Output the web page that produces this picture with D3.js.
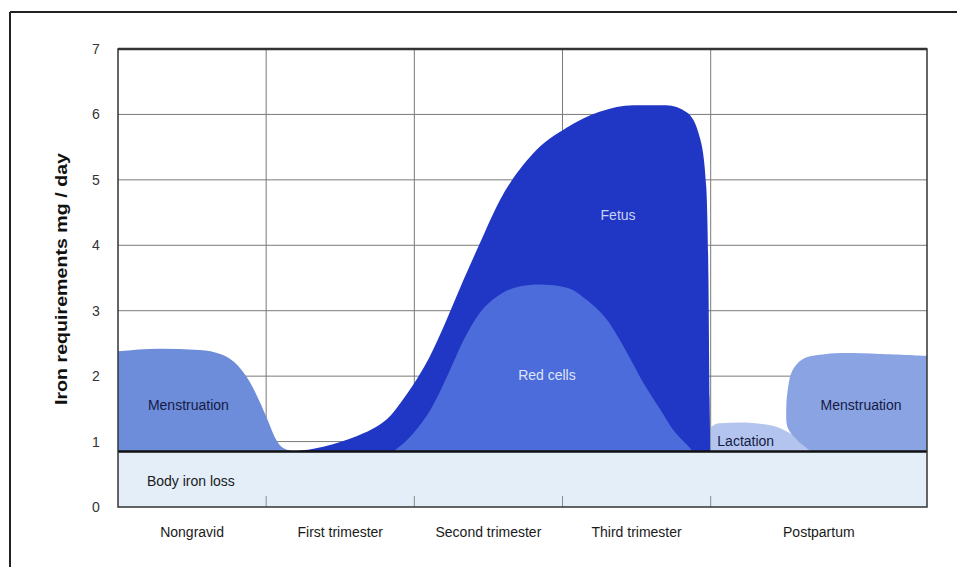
<!DOCTYPE html>
<html>
<head>
<meta charset="utf-8">
<script src="https://cdn.jsdelivr.net/npm/d3@7"></script>
<style>
  html, body { margin: 0; padding: 0; background: #ffffff; }
  svg { display: block; }
  text { font-family: "Liberation Sans", Arial, sans-serif; }
</style>
</head>
<body>
<svg id="chart" width="957" height="567"></svg>
<script>
// ---------------- data ----------------
const stageNames = ["Nongravid", "First trimester", "Second trimester", "Third trimester", "Postpartum"];
const stageEdges = [0, 1, 2, 3, 4, 5.46];          // stage boundaries (x units)
const yTicks = [0, 1, 2, 3, 4, 5, 6, 7];            // mg / day
const bodyIronLoss = 0.85;                          // mg / day

// [stage position, total mg/day] outlines of each area (top edge)
const menstruationBefore = [[0,2.38],[0.28,2.42],[0.55,2.40],[0.70,2.33],[0.81,2.16],[0.89,1.91],[0.95,1.64],[1.01,1.33],[1.06,1.06],[1.11,0.91],[1.17,0.86]];
const fetus = [[1.17,0.85],[1.32,0.89],[1.45,0.96],[1.56,1.04],[1.66,1.13],[1.76,1.25],[1.84,1.40],[1.91,1.60],[1.99,1.86],[2.10,2.28],[2.21,2.82],[2.33,3.46],[2.44,4.02],[2.58,4.70],[2.80,5.40],[3.03,5.80],[3.25,6.04],[3.48,6.14],[3.70,6.14],[3.84,6.03],[3.93,5.62],[3.97,4.90],[3.985,3.48],[3.993,1.64],[3.998,0.85]];
const redCells = [[1.86,0.85],[1.99,1.12],[2.11,1.49],[2.22,1.99],[2.33,2.54],[2.44,2.96],[2.56,3.22],[2.71,3.37],[2.85,3.40],[3.03,3.35],[3.16,3.17],[3.30,2.86],[3.43,2.38],[3.54,1.92],[3.66,1.49],[3.74,1.20],[3.84,0.95],[3.88,0.85]];
const lactation = [[4.00,0.85],[4.002,1.22],[4.06,1.28],[4.20,1.29],[4.42,1.24],[4.57,1.08],[4.67,0.93],[4.72,0.85]];
const menstruationAfter = [[4.67,0.86],[4.58,1.03],[4.52,1.21],[4.51,1.49],[4.52,1.79],[4.55,2.08],[4.62,2.26],[4.78,2.34],[5.14,2.34],[5.46,2.31]];

// ---------------- layout ----------------
const svg = d3.select("#chart");
const plot = { left: 118, right: 927, top: 49, bottom: 507 };
const x = d3.scaleLinear().domain([0, 5.46]).range([plot.left, plot.right]);
const y = d3.scaleLinear().domain([0, 7]).range([plot.bottom, plot.top]);

// outer frame
svg.append("line").attr("x1", 10).attr("y1", 12).attr("x2", 957).attr("y2", 12)
  .attr("stroke", "#222").attr("stroke-width", 2);
svg.append("line").attr("x1", 10).attr("y1", 12).attr("x2", 10).attr("y2", 567)
  .attr("stroke", "#222").attr("stroke-width", 2);

// clip
svg.append("clipPath").attr("id", "plotclip").append("rect")
  .attr("x", plot.left).attr("y", plot.top)
  .attr("width", plot.right - plot.left).attr("height", plot.bottom - plot.top);

const g = svg.append("g");
// horizontal grid
g.selectAll(".hgrid").data(yTicks.filter(t => t > 0 && t < 7)).enter().append("line")
  .attr("x1", plot.left).attr("x2", plot.right)
  .attr("y1", d => y(d)).attr("y2", d => y(d))
  .attr("stroke", "#7a7a7a").attr("stroke-width", 1);
// vertical grid
g.selectAll(".vgrid").data(stageEdges.slice(1, 5)).enter().append("line")
  .attr("x1", d => x(d)).attr("x2", d => x(d))
  .attr("y1", y(7)).attr("y2", y(bodyIronLoss))
  .attr("stroke", "#7a7a7a").attr("stroke-width", 1);

// areas
const areaMono = d3.area()
  .x(d => x(d[0])).y0(y(bodyIronLoss)).y1(d => y(d[1]))
  .curve(d3.curveMonotoneX);
const areaFree = d3.area()
  .x(d => x(d[0])).y0(y(bodyIronLoss)).y1(d => y(d[1]))
  .curve(d3.curveCatmullRom.alpha(0.5));
const shapes = g.append("g").attr("clip-path", "url(#plotclip)");
shapes.append("path").datum(fetus).attr("d", areaMono).attr("fill", "#2036c4");
shapes.append("path").datum(redCells).attr("d", areaMono).attr("fill", "#4c6cdb");
shapes.append("path").datum(menstruationBefore).attr("d", areaMono).attr("fill", "#6d8cda");
shapes.append("path").datum(lactation).attr("d", areaMono).attr("fill", "#b3c5ee");
shapes.append("path").datum(menstruationAfter).attr("d", areaFree).attr("fill", "#8aa4e3");

// body iron loss band
g.append("rect").attr("x", plot.left).attr("y", y(bodyIronLoss))
  .attr("width", plot.right - plot.left).attr("height", y(0) - y(bodyIronLoss))
  .attr("fill", "#e4eef9");
// small ticks at bottom
g.selectAll(".btick").data(stageEdges.slice(1, 5)).enter().append("line")
  .attr("x1", d => x(d)).attr("x2", d => x(d))
  .attr("y1", y(0)).attr("y2", y(0) - 11)
  .attr("stroke", "#8a8a8a").attr("stroke-width", 1);
// heavy baseline
g.append("line").attr("x1", plot.left).attr("x2", plot.right)
  .attr("y1", y(bodyIronLoss)).attr("y2", y(bodyIronLoss))
  .attr("stroke", "#111").attr("stroke-width", 2.5);
// border
g.append("rect").attr("x", plot.left).attr("y", plot.top)
  .attr("width", plot.right - plot.left).attr("height", plot.bottom - plot.top)
  .attr("fill", "none").attr("stroke", "#333").attr("stroke-width", 1.5);
g.append("line").attr("x1", plot.left).attr("x2", plot.right)
  .attr("y1", plot.top).attr("y2", plot.top)
  .attr("stroke", "#333").attr("stroke-width", 2.5);

// y axis labels
svg.selectAll(".ylab").data(yTicks).enter().append("text")
  .attr("x", 96).attr("y", d => y(d) + 5)
  .attr("text-anchor", "middle").attr("font-size", 14).attr("fill", "#333")
  .text(d => d);
svg.append("text")
  .attr("transform", `translate(67, ${(y(0) + y(7)) / 2 + 1}) rotate(-90)`)
  .attr("text-anchor", "middle").attr("font-size", 17).attr("font-weight", "bold")
  .attr("fill", "#111").attr("textLength", 252).attr("lengthAdjust", "spacingAndGlyphs")
  .text("Iron requirements mg / day");

// x labels
svg.selectAll(".xlab").data(stageNames).enter().append("text")
  .attr("x", (d, i) => x((stageEdges[i] + stageEdges[i + 1]) / 2))
  .attr("y", 537).attr("text-anchor", "middle").attr("font-size", 14).attr("fill", "#1a1a1a")
  .text(d => d);

// area labels
const lab = (t, sx, v, color, anchor) => svg.append("text")
  .attr("x", x(sx)).attr("y", y(v)).attr("text-anchor", anchor || "middle")
  .attr("font-size", 14).attr("fill", color).text(t);
lab("Menstruation", 0.475, 1.48, "#161a45");
lab("Body iron loss", 0.195, 0.32, "#1a1a1a", "start");
lab("Fetus", 3.375, 4.38, "#c9d2f3");
lab("Red cells", 2.895, 1.94, "#dfe5f7");
lab("Lactation", 4.045, 0.93, "#161a45", "start");
lab("Menstruation", 5.015, 1.49, "#161a45");
</script>
</body>
</html>
